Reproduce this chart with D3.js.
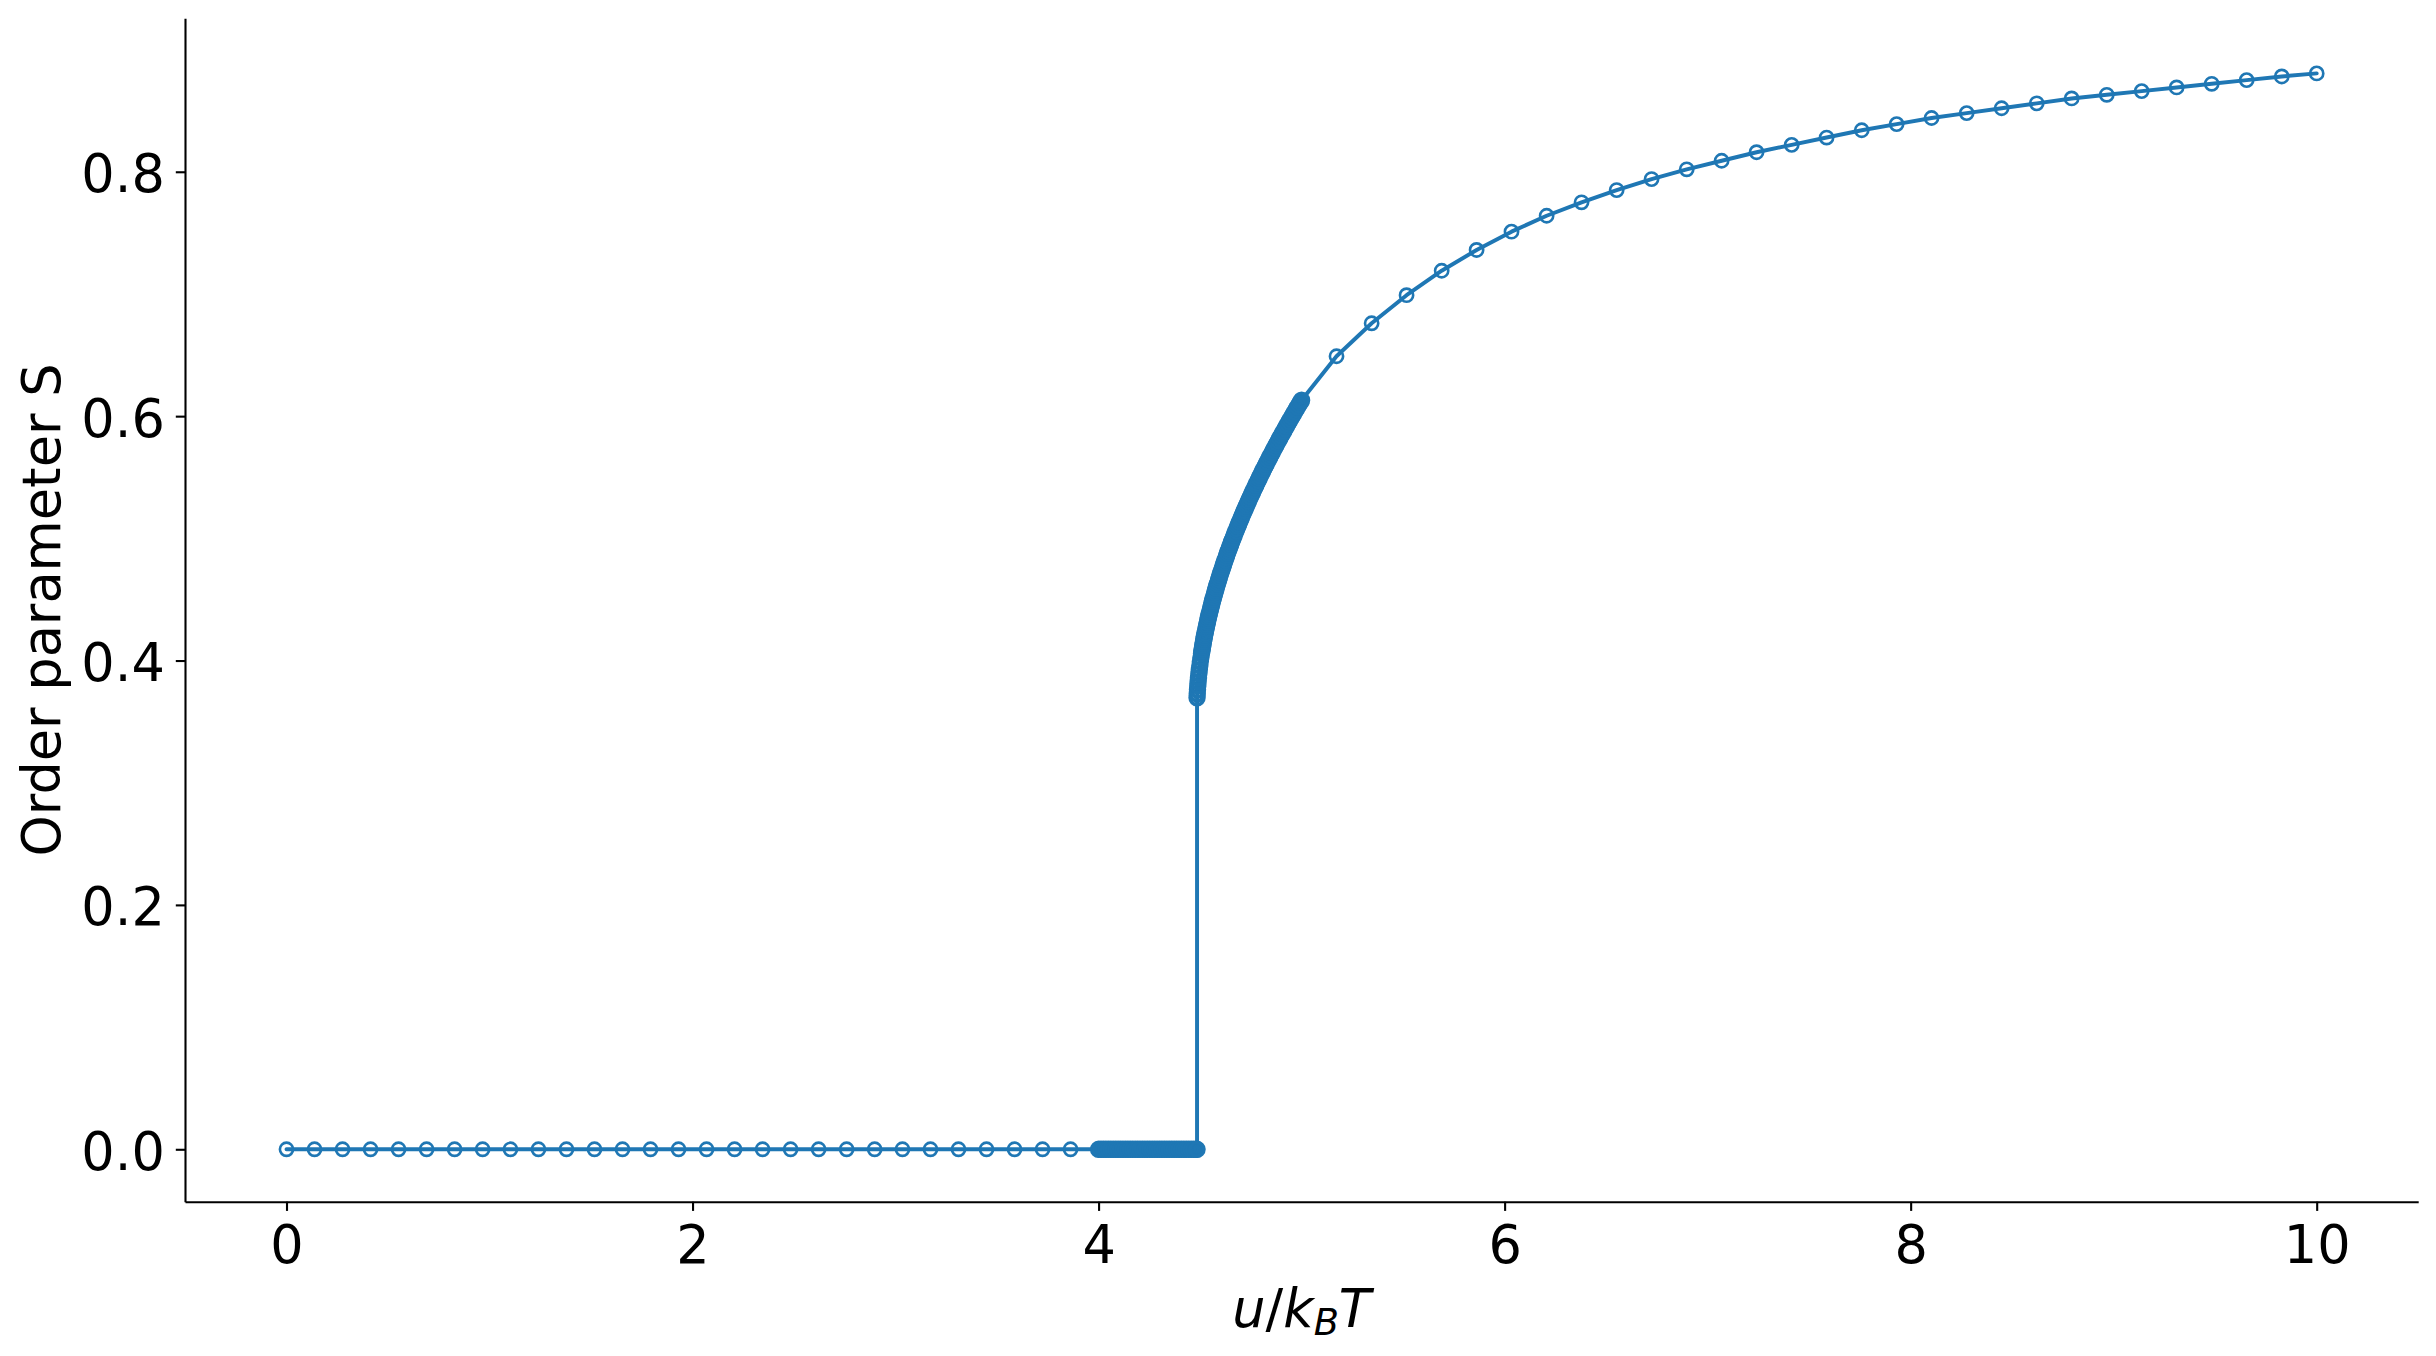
<!DOCTYPE html>
<html>
<head>
<meta charset="utf-8">
<script src="https://cdn.jsdelivr.net/npm/d3@7"></script>
<style>
    body { margin: 0; background: #fff; }
    svg { display: block; font-family: "DejaVu Sans", sans-serif; }
</style>
</head>
<body>
<svg id="chart" width="2436" height="1356"></svg>
<script>
// sparse points below the transition (S = 0)
var lowX = [0, 0.138, 0.276, 0.414, 0.552, 0.690, 0.828, 0.966, 1.103, 1.241,
            1.379, 1.517, 1.655, 1.793, 1.931, 2.069, 2.207, 2.345, 2.483, 2.621,
            2.759, 2.897, 3.034, 3.172, 3.310, 3.448, 3.586, 3.724, 3.862]
var lowS = [0, 0, 0, 0, 0, 0, 0, 0, 0, 0, 0, 0, 0, 0, 0, 0, 0, 0, 0, 0,
            0, 0, 0, 0, 0, 0, 0, 0, 0]

// dense points between 4 and the jump (S = 0)
var bandX = [4.000, 4.012, 4.024, 4.036, 4.048, 4.060, 4.072, 4.084, 4.096, 4.108,
             4.120, 4.132, 4.144, 4.156, 4.168, 4.180, 4.192, 4.204, 4.216, 4.228,
             4.240, 4.252, 4.264, 4.276, 4.288, 4.300, 4.312, 4.324, 4.336, 4.348,
             4.360, 4.372, 4.384, 4.396, 4.408, 4.420, 4.432, 4.444, 4.456, 4.468,
             4.480, 4.485]
var bandS = [0, 0, 0, 0, 0, 0, 0, 0, 0, 0, 0, 0, 0, 0, 0, 0, 0, 0, 0, 0,
             0, 0, 0, 0, 0, 0, 0, 0, 0, 0, 0, 0, 0, 0, 0, 0, 0, 0, 0, 0,
             0, 0]

// dense points on the nematic branch, 4.485 .. 5
var curveX = [4.4850, 4.4860, 4.4872, 4.4886, 4.4902, 4.4920, 4.4940, 4.4962, 4.4986, 4.5012, 4.5040, 4.5070,
              4.5086, 4.5102, 4.5119, 4.5136, 4.5154, 4.5172, 4.5191, 4.5210, 4.5230, 4.5250,
              4.5271, 4.5292, 4.5314, 4.5336, 4.5359, 4.5382, 4.5406, 4.5430, 4.5455, 4.5480,
              4.5506, 4.5532, 4.5559, 4.5586, 4.5614, 4.5642, 4.5671, 4.5700, 4.5730, 4.5760,
              4.5791, 4.5822, 4.5854, 4.5886, 4.5919, 4.5952, 4.5986, 4.6020, 4.6055, 4.6090,
              4.6126, 4.6162, 4.6199, 4.6236, 4.6274, 4.6312, 4.6351, 4.6390, 4.6430, 4.6470,
              4.6511, 4.6552, 4.6594, 4.6636, 4.6679, 4.6722, 4.6766, 4.6810, 4.6855, 4.6900,
              4.6946, 4.6992, 4.7039, 4.7086, 4.7134, 4.7182, 4.7231, 4.7280, 4.7330, 4.7380,
              4.7431, 4.7482, 4.7534, 4.7586, 4.7639, 4.7692, 4.7746, 4.7800, 4.7855, 4.7910,
              4.7966, 4.8022, 4.8079, 4.8136, 4.8194, 4.8252, 4.8311, 4.8370, 4.8430, 4.8490,
              4.8551, 4.8612, 4.8674, 4.8736, 4.8799, 4.8862, 4.8926, 4.8990, 4.9055, 4.9120,
              4.9186, 4.9252, 4.9319, 4.9386, 4.9454, 4.9522, 4.9591, 4.9660, 4.9730, 4.9800,
              4.9871, 4.9942, 5.0000]
var curveS = [0.3695, 0.3727, 0.3760, 0.3792, 0.3825, 0.3858, 0.3891, 0.3924, 0.3958, 0.3991, 0.4024, 0.4058,
              0.4075, 0.4092, 0.4108, 0.4125, 0.4142, 0.4159, 0.4176, 0.4193, 0.4210, 0.4227,
              0.4245, 0.4262, 0.4279, 0.4296, 0.4313, 0.4330, 0.4348, 0.4365, 0.4382, 0.4400,
              0.4417, 0.4434, 0.4452, 0.4469, 0.4487, 0.4504, 0.4522, 0.4539, 0.4557, 0.4575,
              0.4592, 0.4610, 0.4628, 0.4645, 0.4663, 0.4681, 0.4699, 0.4717, 0.4735, 0.4752,
              0.4770, 0.4788, 0.4806, 0.4824, 0.4842, 0.4861, 0.4879, 0.4897, 0.4915, 0.4933,
              0.4951, 0.4970, 0.4988, 0.5006, 0.5024, 0.5043, 0.5061, 0.5080, 0.5098, 0.5116,
              0.5135, 0.5153, 0.5172, 0.5190, 0.5209, 0.5228, 0.5246, 0.5265, 0.5284, 0.5302,
              0.5321, 0.5340, 0.5359, 0.5378, 0.5397, 0.5415, 0.5434, 0.5453, 0.5472, 0.5491,
              0.5510, 0.5529, 0.5549, 0.5568, 0.5587, 0.5606, 0.5625, 0.5644, 0.5664, 0.5683,
              0.5702, 0.5722, 0.5741, 0.5760, 0.5780, 0.5799, 0.5819, 0.5838, 0.5858, 0.5877,
              0.5897, 0.5917, 0.5936, 0.5956, 0.5976, 0.5995, 0.6015, 0.6035, 0.6055, 0.6075,
              0.6094, 0.6114, 0.6130]

// sparse points above 5
var highX = [5.172, 5.345, 5.517, 5.690, 5.862, 6.034, 6.207, 6.379, 6.552, 6.724,
             6.897, 7.069, 7.241, 7.414, 7.586, 7.759, 7.931, 8.103, 8.276, 8.448,
             8.621, 8.793, 8.966, 9.138, 9.310, 9.483, 9.655, 9.828, 10.000]
var highS = [0.649, 0.676, 0.699, 0.719, 0.736, 0.751, 0.764, 0.775, 0.785, 0.794,
             0.802, 0.809, 0.816, 0.822, 0.828, 0.834, 0.839, 0.844, 0.848, 0.852,
             0.856, 0.860, 0.863, 0.866, 0.869, 0.872, 0.875, 0.878, 0.8805]

var xTicks = [0, 2, 4, 6, 8, 10]
var yTicks = [0.0, 0.2, 0.4, 0.6, 0.8]

var color = "#1f77b4"
var fontSize = 52.5

function zipPoints(xs, ss, dense)
{
    var out = []
    for(var i=0; i<xs.length; i++)
    {
        out.push({x: xs[i], s: ss[i], dense: dense})
    }
    return out
}

var data = [].concat(zipPoints(lowX, lowS, false), zipPoints(bandX, bandS, true),
                     zipPoints(curveX, curveS, true), zipPoints(highX, highS, false))

var svg = d3.select("#chart")

var xScale = d3.scaleLinear()
                .domain([-0.5, 10.5])
                .range([185, 2418.2])

var yScale = d3.scaleLinear()
                .domain([-0.0429, 0.9256])
                .range([1201.7, 18.3])

// axes (only left and bottom spines, top/right hidden)
var xAxis = d3.axisBottom(xScale)
                .tickValues(xTicks)
                .tickFormat(d3.format("d"))
                .tickSize(9.2)
                .tickSizeOuter(0)
                .tickPadding(14.8)

var yAxis = d3.axisLeft(yScale)
                .tickValues(yTicks)
                .tickFormat(d3.format(".1f"))
                .tickSize(9.2)
                .tickSizeOuter(0)
                .tickPadding(11)

var gx = svg.append("g")
    .attr("transform", "translate(0," + 1201.7 + ")")
    .call(xAxis)

var gy = svg.append("g")
    .attr("transform", "translate(" + 185 + ",0)")
    .call(yAxis)

svg.selectAll(".domain, .tick line")
    .attr("stroke", "#000")
    .attr("stroke-width", 2.1)

svg.selectAll(".tick text")
    .attr("fill", "#000")
    .style("font-size", fontSize + "px")
    .style("font-family", "'DejaVu Sans', sans-serif")

gy.selectAll(".tick text").attr("dy", "0.38em")

// connecting line
var line = d3.line()
    .x(function(d){ return xScale(d.x) })
    .y(function(d){ return yScale(d.s) })

svg.append("path")
    .datum(data)
    .attr("d", line)
    .attr("fill", "none")
    .attr("stroke", color)
    .attr("stroke-width", 3.95)
    .attr("stroke-linejoin", "round")
    .attr("stroke-linecap", "round")

// open circle markers; where they pile up the antialiased rims add up,
// so the dense runs get a slightly heavier rim
svg.append("g")
    .selectAll("circle")
    .data(data)
    .enter()
        .append("circle")
        .attr("cx", function(d){ return xScale(d.x) })
        .attr("cy", function(d){ return yScale(d.s) })
        .attr("r", function(d){ return d.dense ? 6.9 : 6.6 })
        .attr("fill", "none")
        .attr("stroke", color)
        .attr("stroke-width", function(d){ return d.dense ? 3.6 : 2.63 })

// axis labels
var xLabel = svg.append("text")
    .attr("x", (185 + 2418.2) / 2)
    .attr("y", 1327)
    .attr("text-anchor", "middle")
    .style("font-size", fontSize + "px")
    .attr("fill", "#000")

xLabel.append("tspan").style("font-style", "italic").text("u")
xLabel.append("tspan").text("/")
xLabel.append("tspan").style("font-style", "italic").text("k")
xLabel.append("tspan").style("font-style", "italic").style("font-size", (fontSize * 0.7) + "px").attr("dy", 8).text("B")
xLabel.append("tspan").style("font-style", "italic").attr("dy", -8).text("T")

svg.append("text")
    .attr("transform", "translate(60," + (18.3 + 1201.7) / 2 + ") rotate(-90)")
    .attr("text-anchor", "middle")
    .style("font-size", fontSize + "px")
    .attr("fill", "#000")
    .text("Order parameter S")
</script>
</body>
</html>
